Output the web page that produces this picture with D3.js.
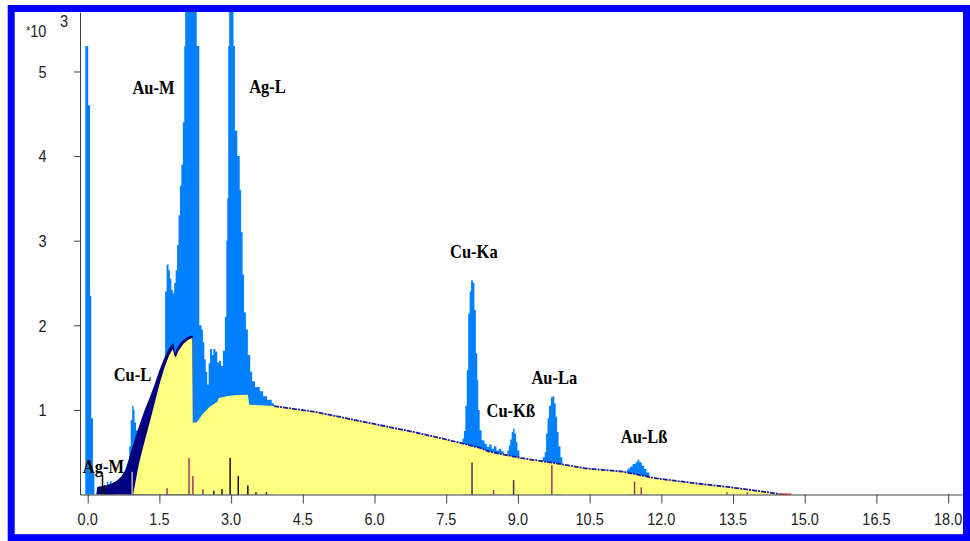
<!DOCTYPE html>
<html><head><meta charset="utf-8">
<script src="https://cdn.jsdelivr.net/npm/d3@7"></script>
<style>body{margin:0;background:#fff}svg{display:block}</style>
</head><body><svg id="c" width="970" height="541"></svg>
<script>
// ---- data (energy keV, counts) ----
const xDomain = [-0.161, 18.29];
const yDomain = [0, 5703];
const xTicks = [0, 1.5, 3, 4.5, 6, 7.5, 9, 10.5, 12, 13.5, 15, 16.5, 18];
const xTickLabels = ["0.0","1.5","3.0","4.5","6.0","7.5","9.0","10.5","12.0","13.5","15.0","16.5","18.0"];
const yTicks = [1000, 2000, 3000, 4000, 5000];
const yTickLabels = ["1","2","3","4","5"];

const zeroPeak = [[-0.05,5300],[0.01,4600],[0.05,2350],[0.075,900],[0.11,250],[0.14,0]];
const agMBits = [[0.40,150],[0.43,120],[0.47,160],[0.50,120],[0.55,0]];
const cuLPeak = [[0.84,350],[0.87,570],[0.90,880],[0.93,1050],[0.96,1000],[0.98,850],[1.01,760],[1.05,700],[1.10,650],[1.15,0]];
const auMagL = [[1.58,1550],[1.62,2400],[1.65,2720],[1.69,2650],[1.72,2550],[1.75,2420],[1.78,2380],[1.81,2500],[1.84,2650],[1.87,2950],[1.90,3300],[1.93,3650],[1.96,3900],[1.99,4400],[2.02,5300],[2.04,9000],[2.28,5300],[2.335,2000],[2.38,1950],[2.41,1800],[2.44,1600],[2.47,1450],[2.50,1300],[2.53,1550],[2.56,1720],[2.60,1650],[2.63,1720],[2.67,1690],[2.71,1560],[2.75,1580],[2.79,1520],[2.83,1700],[2.87,2100],[2.90,3000],[2.92,3500],[2.94,5300],[2.96,9000],[3.05,5300],[3.08,4300],[3.13,4000],[3.18,3600],[3.21,3100],[3.24,2600],[3.27,2150],[3.31,1950],[3.35,1650],[3.40,1450],[3.44,1340],[3.50,1270],[3.60,1220],[3.67,1160],[3.75,1120],[3.85,1080],[3.90,0]];
const cuKa = [[7.84,660],[7.87,750],[7.90,1050],[7.93,1470],[7.96,2140],[7.99,2400],[8.02,2530],[8.06,2500],[8.09,2180],[8.12,1670],[8.15,1350],[8.17,1000],[8.20,760],[8.24,640],[8.30,600],[8.35,560],[8.40,590],[8.45,540],[8.50,570],[8.55,520],[8.60,540],[8.65,510],[8.70,0]];
const cuKb = [[8.78,520],[8.81,580],[8.84,650],[8.87,740],[8.90,780],[8.93,720],[8.96,620],[8.99,520],[9.03,0]];
const auLa = [[9.52,440],[9.56,500],[9.59,720],[9.62,900],[9.65,1050],[9.69,1150],[9.73,1160],[9.76,1080],[9.79,920],[9.82,740],[9.85,570],[9.89,440],[9.93,0]];
const auLb = [[11.28,290],[11.31,310],[11.35,330],[11.40,360],[11.46,380],[11.50,410],[11.54,380],[11.59,340],[11.64,300],[11.69,260],[11.75,0]];

const navyEdge = [[0.18,0],[0.20,90],[0.30,100],[0.40,110],[0.50,130],[0.60,160],[0.70,210],[0.78,280],[0.85,400],[0.90,500],[1.00,680],[1.10,850],[1.20,1010],[1.30,1150],[1.40,1300],[1.50,1470],[1.60,1610],[1.70,1730],[1.79,1790],[1.83,1670],[1.87,1730],[1.95,1800],[2.05,1850],[2.15,1875],[2.20,1875],[2.21,0]];
const background = [[0.95,0],[1.00,150],[1.05,300],[1.10,430],[1.20,650],[1.30,860],[1.40,1080],[1.50,1300],[1.60,1490],[1.70,1640],[1.78,1720],[1.81,1650],[1.84,1620],[1.90,1700],[2.00,1780],[2.10,1830],[2.19,1850],[2.20,850],[2.28,850],[2.40,950],[2.56,1040],[2.72,1100],[2.74,1140],[2.91,1160],[3.12,1175],[3.35,1180],[3.38,1060],[3.60,1055],[3.90,1045],[4.02,1035],[4.72,980],[5.42,900],[6.11,820],[6.81,740],[7.51,650],[7.79,610],[8.21,550],[8.38,510],[9.08,430],[9.78,370],[10.40,310],[11.20,270],[11.90,190],[12.74,130],[13.44,86],[14.13,34],[14.48,5],[14.62,0]];
const tailRed = [[14.45,0],[14.72,0]];

const auLines = [[1.66,75],[2.12,430],[2.20,220],[2.41,63],[8.49,54],[9.71,350],[11.44,153],[11.58,86],[13.37,27],[13.80,27]];
const agLines = [[0.31,230],[0.355,110],[2.64,43],[2.81,63],[2.98,430],[3.15,220],[3.35,105],[3.52,27],[3.74,27]];
const cuKLines = [[8.04,377],[8.91,170]];
const cuLLines = [[0.93,270]];

const peakLabels = ["Au-M","Ag-L","Cu-Ka","Au-La","Cu-Kß","Au-Lß","Cu-L","Ag-M"];
const peakLabelE = [1.377,3.762,8.077,9.761,8.851,11.64,0.937,0.328];
const peakLabelC = [4739,4742,2792,1311,921,605,1346,259];

// ---- drawing ----
const svg = d3.select("#c");
const x = d3.scaleLinear().domain(xDomain).range([80, 962]);
const y = d3.scaleLinear().domain(yDomain).range([494.5, 12]);

svg.append("defs").append("clipPath").attr("id","plot")
  .append("rect").attr("x",80).attr("y",12).attr("width",884).attr("height",483);
const g = svg.append("g").attr("clip-path","url(#plot)");

const stepArea = d3.area().x(d=>x(d[0])).y0(y(0)).y1(d=>y(d[1])).curve(d3.curveStepAfter);
const linArea = d3.area().x(d=>x(d[0])).y0(y(0)).y1(d=>y(d[1])).curve(d3.curveLinear);
const line = d3.line().x(d=>x(d[0])).y(d=>y(d[1]));

[zeroPeak, agMBits, cuLPeak, auMagL, cuKa, cuKb, auLa, auLb].forEach(p=>{
  g.append("path").datum(p).attr("d", stepArea).attr("fill","#0080ff");
});
g.append("path").datum(navyEdge).attr("d", linArea).attr("fill","#000080");
g.append("path").datum(background).attr("d", linArea).attr("fill","#ffff80");
g.append("path").datum(background.filter(d=>d[0]>=3.85)).attr("d", line)
  .attr("fill","none").attr("stroke","#1a1aa0").attr("stroke-width",1.8)
  .attr("stroke-dasharray","5,1,2,1");
g.append("path").datum(tailRed).attr("d", line).attr("fill","none").attr("stroke","#ff4040").attr("stroke-width",2);

function markers(arr, color){
  g.selectAll(null).data(arr).enter().append("line")
    .attr("x1",d=>x(d[0])).attr("x2",d=>x(d[0]))
    .attr("y1",y(0)).attr("y2",d=>y(d[1]))
    .attr("stroke",color).attr("stroke-width",1.5);
}
markers(auLines, "#9c3a6b");
markers(agLines, "#111111");
markers(cuKLines, "#3a3a5a");
markers(cuLLines, "#b8b8b8");

// axes
const axisColor = "#404040";
const xa = svg.append("g").attr("transform",`translate(0,${y(0)})`)
  .call(d3.axisBottom(x).tickValues(xTicks).tickSize(9).tickSizeOuter(0).tickFormat(""));
xa.selectAll("path,line").attr("stroke",axisColor);
const ya = svg.append("g").attr("transform",`translate(80,0)`)
  .call(d3.axisLeft(y).tickValues(yTicks).tickSize(6).tickSizeOuter(0).tickFormat(""));
ya.selectAll("path,line").attr("stroke",axisColor);

const numFont = "'Liberation Sans', Arial, sans-serif";
svg.selectAll(null).data(xTicks).enter().append("text")
  .attr("transform",(d)=>`translate(${x(d)},525) scale(1,1.2)`)
  .attr("text-anchor","middle").attr("font-family",numFont).attr("font-size",14.5).attr("fill","#222")
  .text((d,i)=>xTickLabels[i]);
svg.selectAll(null).data(yTicks).enter().append("text")
  .attr("transform",(d)=>`translate(42.5,${y(d)+6.3}) scale(1,1.2)`)
  .attr("text-anchor","middle").attr("font-family",numFont).attr("font-size",14.5).attr("fill","#222")
  .text((d,i)=>yTickLabels[i]);

const mult = svg.append("text").attr("transform","translate(26,36.5) scale(1,1.2)")
  .attr("font-family",numFont).attr("font-size",14.5).attr("fill","#222");
mult.append("tspan").attr("font-size",11).attr("dy",-1).text("*");
mult.append("tspan").attr("dy",1).text("10");
svg.append("text").attr("transform","translate(60,26.5) scale(1,1.2)")
  .attr("font-family",numFont).attr("font-size",14.5).attr("fill","#222").text("3");

svg.selectAll(null).data(peakLabels).enter().append("text")
  .attr("transform",(d,i)=>`translate(${x(peakLabelE[i])},${y(peakLabelC[i])}) scale(1,1.2)`)
  .attr("text-anchor","middle").attr("font-family","'Liberation Serif','Times New Roman',serif")
  .attr("font-weight","bold").attr("font-size",16.5).attr("fill","#000")
  .text(d=>d);

// frame
svg.append("rect").attr("x",11.2).attr("y",8.5).attr("width",955.3).attr("height",529.2)
  .attr("fill","none").attr("stroke","#0000ff").attr("stroke-width",7);
</script></body></html>
